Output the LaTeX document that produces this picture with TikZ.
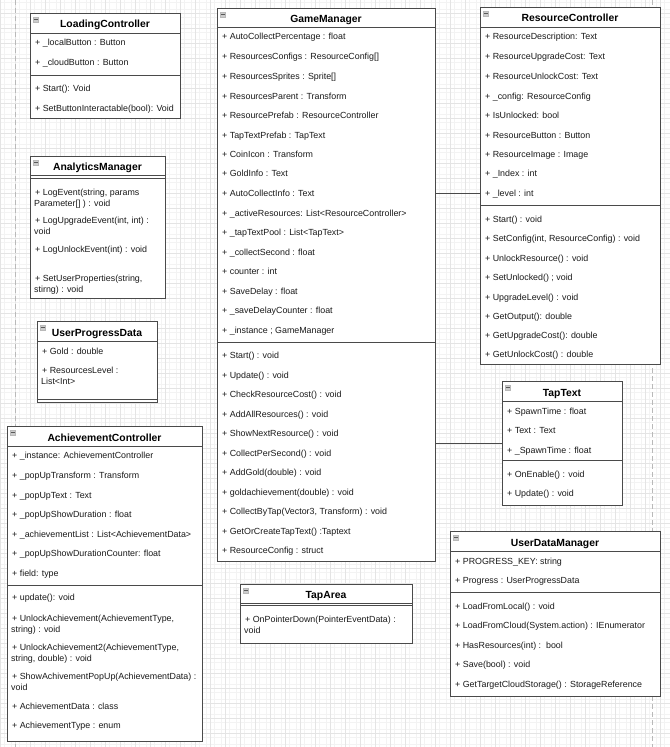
\documentclass[tikz,border=0pt]{standalone}
\usepackage{fontspec}
\setmainfont{Liberation Sans}
\definecolor{boxc}{HTML}{4A4A4A}
\definecolor{txtc}{HTML}{1A1A1A}
\definecolor{gridmaj}{HTML}{E4E4E4}
\definecolor{gridmin}{HTML}{F3F3F3}
\tikzset{
  cls/.style={draw=boxc, fill=white, line width=0.9bp, inner sep=0pt, outer sep=0pt, anchor=north west},
  hd/.style={font=\bfseries\fontsize{10.4}{12}\selectfont, inner sep=0pt, anchor=base, text=black},
  tx/.style={font=\fontsize{8.9}{11}\selectfont, anchor=base west, inner sep=0pt, text=txtc},
  sepl/.style={draw=boxc, line width=0.9bp},
  conn/.style={draw=boxc, line width=0.9bp},
  iconbox/.style={fill=gray!40, draw=gray!55, line width=0.3bp},
  pagebr/.style={draw=gray!55, dash pattern=on 5bp off 3bp, line width=0.8bp},
}
% #1 name, #2 x1, #3 y1, #4 x2, #5 y2, #6 header bottom, #7 title
\newcommand\umlcls[7]{%
  \node[cls, minimum width={(#4-#2)*1bp}, minimum height={(#5-#3)*1bp}] (#1) at (#2,#3) {};
  \draw[sepl] (#2,#6) -- (#4,#6);
  \node[hd] (#1-title) at ({(#2+#4)/2},{(#3+#6)/2+5}) {#7};
  \path[iconbox] (#2+3,#3+4) rectangle ++(5.5,5.5);
  \draw[black!65, line width=0.7bp] (#2+4,#3+6.75) -- ++(3.5,0);
}
\newcommand\rw[4]{\node[tx] (#1) at (#2,#3) {#4};}
\begin{document}
\begin{tikzpicture}[x=1bp, y=-1bp]
\useasboundingbox (0,0) rectangle (670,747);
\fill[white] (0,0) rectangle (670,747);
% grid
\foreach \i in {0,...,89} {\draw[gridmin, line width=0.5bp] ({\i*7.5+3.75},0) -- ++(0,747);}
\foreach \i in {0,...,100} {\draw[gridmin, line width=0.5bp] (0,{\i*7.5-1.7+3.75}) -- ++(670,0);}
\foreach \i in {0,...,44} {\draw[gridmaj, line width=0.6bp] ({\i*15},0) -- ++(0,747);}
\foreach \i in {0,...,50} {\draw[gridmaj, line width=0.6bp] (0,{\i*15-1.7}) -- ++(670,0);}
% page breaks
\draw[pagebr] (15,0) -- (15,747);
\draw[pagebr] (652,0) -- (652,747);

% ---------- LoadingController
\umlcls{lc}{30}{13}{180}{118}{33}{LoadingController}
\draw[sepl] (30,75) -- (180,75);
\rw{lc1}{35}{46}{+ \_localButton : Button}
\rw{lc2}{35}{66}{+ \_cloudButton : Button}
\rw{lc3}{35}{91}{+ Start(): Void}
\rw{lc4}{35}{111}{+ SetButtonInteractable(bool): Void}

% ---------- AnalyticsManager
\umlcls{am}{30}{156}{165}{298}{175}{AnalyticsManager}
\draw[sepl] (30,178) -- (165,178);
\rw{am1}{35}{195}{+ LogEvent(string, params}
\rw{am1b}{34}{206}{Parameter[] ) : void}
\rw{am2}{35}{223}{+ LogUpgradeEvent(int, int) :}
\rw{am2b}{34}{234}{void}
\rw{am3}{35}{252}{+ LogUnlockEvent(int) : void}
\rw{am4}{35}{281}{+ SetUserProperties(string,}
\rw{am4b}{34}{292}{stirng) : void}

% ---------- UserProgressData
\umlcls{upd}{37}{321}{157}{402}{341}{UserProgressData}
\draw[sepl] (37,399) -- (157,399);
\rw{upd1}{42}{354}{+ Gold : double}
\rw{upd2}{42}{373}{+ ResourcesLevel :}
\rw{upd2b}{41}{384}{List<Int>}

% ---------- AchievementController
\umlcls{ac}{7}{426}{202}{741}{446}{AchievementController}
\draw[sepl] (7,585) -- (202,585);
\rw{ac1}{12}{458}{+ \_instance: AchievementController}
\rw{ac2}{12}{478}{+ \_popUpTransform : Transform}
\rw{ac3}{12}{498}{+ \_popUpText : Text}
\rw{ac4}{12}{517}{+ \_popUpShowDuration : float}
\rw{ac5}{12}{537}{+ \_achievementList : List<AchievementData>}
\rw{ac6}{12}{556}{+ \_popUpShowDurationCounter: float}
\rw{ac7}{12}{576}{+ field: type}
\rw{ac8}{12}{600}{+ update(): void}
\rw{ac9}{12}{621}{+ UnlockAchievement(AchievementType,}
\rw{ac9b}{11}{632}{string) : void}
\rw{ac10}{12}{650}{+ UnlockAchievement2(AchievementType,}
\rw{ac10b}{11}{661}{string, double) : void}
\rw{ac11}{12}{679}{+ ShowAchivementPopUp(AchievementData) :}
\rw{ac11b}{11}{690}{void}
\rw{ac12}{12}{709}{+ AchievementData : class}
\rw{ac13}{12}{728}{+ AchievementType : enum}

% ---------- GameManager
\umlcls{gm}{217}{8}{435}{561}{27}{GameManager}
\draw[sepl] (217,342) -- (435,342);
\rw{gm1}{222}{40}{+ AutoCollectPercentage : float}
\rw{gm2}{222}{60}{+ ResourcesConfigs : ResourceConfig[]}
\rw{gm3}{222}{79}{+ ResourcesSprites : Sprite[]}
\rw{gm4}{222}{99}{+ ResourcesParent : Transform}
\rw{gm5}{222}{118}{+ ResourcePrefab : ResourceController}
\rw{gm6}{222}{138}{+ TapTextPrefab : TapText}
\rw{gm7}{222}{157}{+ CoinIcon : Transform}
\rw{gm8}{222}{176}{+ GoldInfo : Text}
\rw{gm9}{222}{196}{+ AutoCollectInfo : Text}
\rw{gm10}{222}{216}{+ \_activeResources: List<ResourceController>}
\rw{gm11}{222}{235}{+ \_tapTextPool : List<TapText>}
\rw{gm12}{222}{255}{+ \_collectSecond : float}
\rw{gm13}{222}{274}{+ counter : int}
\rw{gm14}{222}{294}{+ SaveDelay : float}
\rw{gm15}{222}{313}{+ \_saveDelayCounter : float}
\rw{gm16}{222}{333}{+ \_instance ; GameManager}
\rw{gm17}{222}{358}{+ Start() : void}
\rw{gm18}{222}{378}{+ Update() : void}
\rw{gm19}{222}{397}{+ CheckResourceCost() : void}
\rw{gm20}{222}{417}{+ AddAllResources() : void}
\rw{gm21}{222}{436}{+ ShowNextResource() : void}
\rw{gm22}{222}{456}{+ CollectPerSecond() : void}
\rw{gm23}{222}{475}{+ AddGold(double) : void}
\rw{gm24}{222}{495}{+ goldachievement(double) : void}
\rw{gm25}{222}{514}{+ CollectByTap(Vector3, Transform) : void}
\rw{gm26}{222}{534}{+ GetOrCreateTapText() :Taptext}
\rw{gm27}{222}{553}{+ ResourceConfig : struct}

% ---------- ResourceController
\umlcls{rc}{480}{7}{660}{364}{27}{ResourceController}
\draw[sepl] (480,205) -- (660,205);
\rw{rc1}{485}{40}{+ ResourceDescription: Text}
\rw{rc2}{485}{60}{+ ResourceUpgradeCost: Text}
\rw{rc3}{485}{79}{+ ResourceUnlockCost: Text}
\rw{rc4}{485}{99}{+ \_config: ResourceConfig}
\rw{rc5}{485}{118}{+ IsUnlocked: bool}
\rw{rc6}{485}{138}{+ ResourceButton : Button}
\rw{rc7}{485}{157}{+ ResourceImage : Image}
\rw{rc8}{485}{176}{+ \_Index : int}
\rw{rc9}{485}{196}{+ \_level : int}
\rw{rc10}{485}{222}{+ Start() : void}
\rw{rc11}{485}{241}{+ SetConfig(int, ResourceConfig) : void}
\rw{rc12}{485}{261}{+ UnlockResource() : void}
\rw{rc13}{485}{280}{+ SetUnlocked() ; void}
\rw{rc14}{485}{300}{+ UpgradeLevel() : void}
\rw{rc15}{485}{319}{+ GetOutput(): double}
\rw{rc16}{485}{338}{+ GetUpgradeCost(): double}
\rw{rc17}{485}{357}{+ GetUnlockCost() : double}

% ---------- TapText
\umlcls{tt}{502}{381}{622}{505}{401}{TapText}
\draw[sepl] (502,460) -- (622,460);
\rw{tt1}{507}{414}{+ SpawnTime : float}
\rw{tt2}{507}{433}{+ Text : Text}
\rw{tt3}{507}{453}{+ \_SpawnTime : float}
\rw{tt4}{507}{477}{+ OnEnable() : void}
\rw{tt5}{507}{496}{+ Update() : void}

% ---------- TapArea
\umlcls{ta}{240}{584}{412}{643}{603}{TapArea}
\draw[sepl] (240,605.5) -- (412,605.5);
\rw{ta1}{245}{622}{+ OnPointerDown(PointerEventData) :}
\rw{ta1b}{244}{633}{void}

% ---------- UserDataManager
\umlcls{udm}{450}{531}{660}{696}{551}{UserDataManager}
\draw[sepl] (450,592) -- (660,592);
\rw{udm1}{455}{564}{+ PROGRESS\_KEY: string}
\rw{udm2}{455}{583}{+ Progress : UserProgressData}
\rw{udm3}{455}{609}{+ LoadFromLocal() : void}
\rw{udm4}{455}{628}{+ LoadFromCloud(System.action) : IEnumerator}
\rw{udm5}{455}{648}{+ HasResources(int) :\ \ bool}
\rw{udm6}{455}{667}{+ Save(bool) : void}
\rw{udm7}{455}{687}{+ GetTargetCloudStorage() : StorageReference}

% ---------- connectors
\draw[conn] (gm.east |- 0,193) -- (rc.west |- 0,193);
\draw[conn] (gm.east |- 0,443) -- (tt.west |- 0,443);
\end{tikzpicture}
\end{document}
